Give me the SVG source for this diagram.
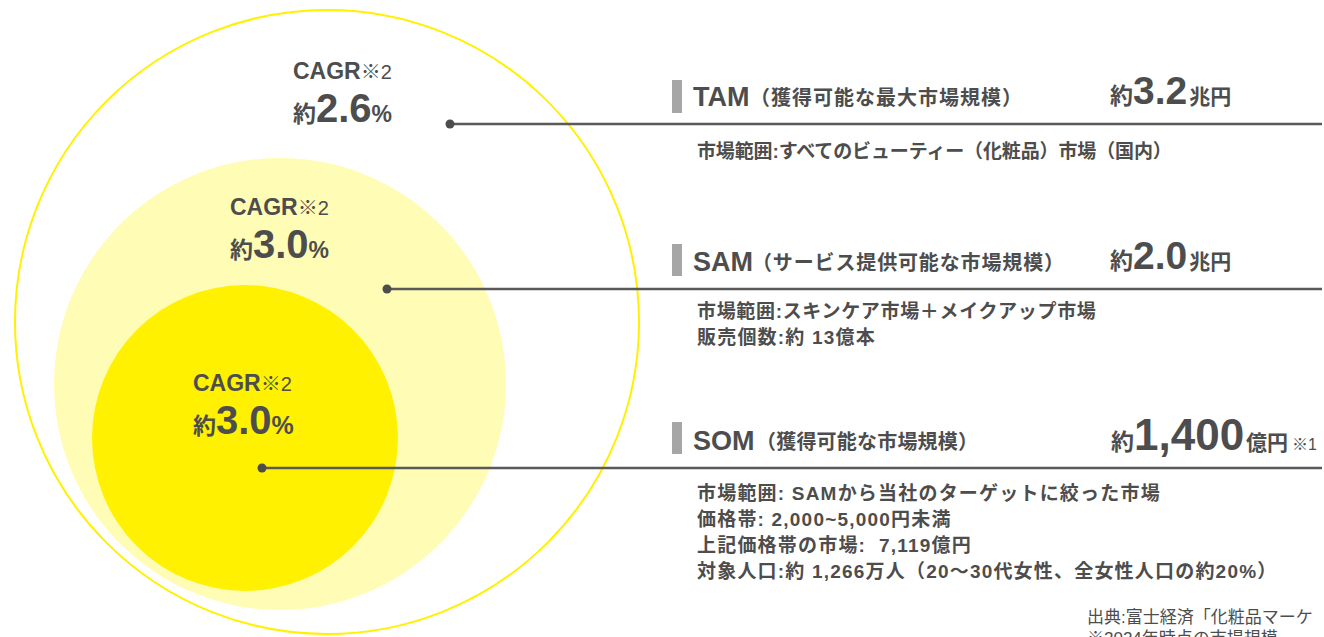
<svg xmlns="http://www.w3.org/2000/svg" width="1324" height="637" viewBox="0 0 1324 637">
<style>
text{font-family:"Liberation Sans","Noto Sans CJK JP",sans-serif;fill:#4d4d4d;font-weight:bold}
.n{font-weight:normal}
.bar{fill:#a6a6a6}
.ln{stroke:#595959;stroke-width:2.5;fill:none}
.dot{fill:#4d4d4d}
.cg{font-size:23px}
.big{font-size:40px}
.desc{font-size:19px;letter-spacing:1.2px}
.hd{font-size:27px}
.hs{font-size:20px}
</style>
<rect width="1324" height="637" fill="#ffffff"/>
<g id="tam-circle">
<circle cx="327" cy="322" r="312" fill="#ffffff" stroke="#fff100" stroke-width="2"/>
<text class="cg" x="293" y="79">CAGR<tspan class="n" font-size="20">※2</tspan></text>
<text x="293" y="122"><tspan font-size="23">約</tspan><tspan class="big">2.6</tspan><tspan font-size="23">%</tspan></text>
</g>
<g id="sam-circle">
<circle cx="280" cy="384" r="226" fill="#fffdb5"/>
<text class="cg" x="230" y="215">CAGR<tspan class="n" font-size="20">※2</tspan></text>
<text x="230" y="258"><tspan font-size="23">約</tspan><tspan class="big">3.0</tspan><tspan font-size="23">%</tspan></text>
</g>
<g id="som-circle">
<circle cx="245" cy="438" r="153" fill="#fff100"/>
<text class="cg" x="193" y="391">CAGR<tspan class="n" font-size="20">※2</tspan></text>
<text x="193" y="434"><tspan font-size="23">約</tspan><tspan class="big">3.0</tspan><tspan font-size="25">%</tspan></text>
</g>
<g id="connectors">
<line class="ln" x1="450" y1="124" x2="1322" y2="124"/>
<circle class="dot" cx="450" cy="124" r="4.5"/>
<line class="ln" x1="387" y1="289" x2="1322" y2="289"/>
<circle class="dot" cx="387" cy="289" r="4.5"/>
<line class="ln" x1="262" y1="468" x2="1322" y2="468"/>
<circle class="dot" cx="262" cy="468" r="4.5"/>
</g>
<g id="tam-label">
<rect class="bar" x="672" y="80" width="10" height="33"/>
<text class="hd" x="693" y="106">TAM</text>
<text class="hs" x="750" y="105" textLength="272">（獲得可能な最大市場規模）</text>
<text x="1110" y="104"><tspan font-size="23">約</tspan><tspan font-size="39">3.2</tspan><tspan font-size="21" dx="2">兆円</tspan></text>
<text class="desc" x="697" y="158" textLength="476">市場範囲:すべてのビューティー（化粧品）市場（国内）</text>
</g>
<g id="sam-label">
<rect class="bar" x="672" y="244" width="10" height="32"/>
<text class="hd" x="693" y="271">SAM</text>
<text class="hs" x="752" y="270" textLength="312">（サービス提供可能な市場規模）</text>
<text x="1110" y="269"><tspan font-size="23">約</tspan><tspan font-size="39">2.0</tspan><tspan font-size="21" dx="2">兆円</tspan></text>
<text class="desc" x="697" y="318" textLength="400">市場範囲:スキンケア市場＋メイクアップ市場</text>
<text class="desc" x="697" y="344">販売個数:約 13億本</text>
</g>
<g id="som-label">
<rect class="bar" x="672" y="422" width="10" height="32"/>
<text class="hd" x="693" y="450">SOM</text>
<text class="hs" x="756" y="449" textLength="222">（獲得可能な市場規模）</text>
<text x="1111" y="450"><tspan font-size="23">約</tspan><tspan font-size="44">1,400</tspan><tspan font-size="21" dx="2">億円</tspan><tspan class="n" font-size="16" dx="4">※1</tspan></text>
<text class="desc" x="697" y="500">市場範囲: SAMから当社のターゲットに絞った市場</text>
<text class="desc" x="697" y="526">価格帯: 2,000~5,000円未満</text>
<text class="desc" x="697" y="552">上記価格帯の市場:&#160; 7,119億円</text>
<text class="desc" x="697" y="578">対象人口:約 1,266万人（20〜30代女性、全女性人口の約20%）</text>
</g>
<g id="source">
<text class="n" font-size="17" x="1087" y="623">出典:富士経済「化粧品マーケ</text>
<text class="n" font-size="17" x="1087" y="644">※2024年時点の市場規模</text>
</g>
</svg>
